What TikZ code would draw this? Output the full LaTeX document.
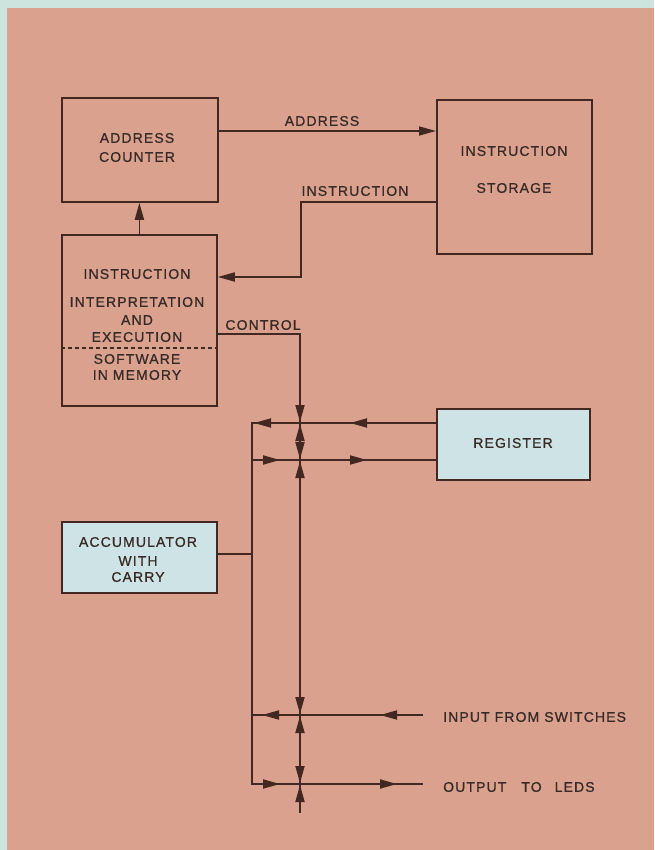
\documentclass[tikz,border=0pt]{standalone}
\usepackage{fontspec}
\setmainfont{Liberation Sans}[LetterSpace=8, FakeBold=0.8]
\usetikzlibrary{arrows.meta,calc}
\definecolor{salmon}{RGB}{217,161,142}
\definecolor{framecol}{RGB}{204,227,222}
\definecolor{boxblue}{RGB}{206,227,229}
\definecolor{ink}{RGB}{66,40,32}
\definecolor{txt}{RGB}{56,42,38}
\begin{document}
\begin{tikzpicture}[x=1pt,y=-1pt,
  box/.style={draw=ink, line width=1.8pt, rectangle, inner sep=0pt, anchor=north west},
  lbl/.style={text=txt, font=\fontsize{14}{18}\selectfont, inner sep=0pt},
  wire/.style={draw=ink, line width=1.8pt},
  tip/.style={wire, -{Triangle[length=17pt,width=9pt]}},
]
\fill[framecol] (0,0) rectangle (654,850);
\fill[salmon] (7,8) rectangle (654,850);
\useasboundingbox (0,0) rectangle (654,850);

% boxes
\node[box, minimum width=156pt, minimum height=104pt] (ac) at (61,97) {};
\node[box, minimum width=155pt, minimum height=154pt] (is) at (436,99) {};
\node[box, minimum width=155pt, minimum height=171pt] (iie) at (61,234) {};
\node[box, fill=boxblue, minimum width=153pt, minimum height=71pt] (reg) at (436,408) {};
\node[box, fill=boxblue, minimum width=155pt, minimum height=71pt] (acc) at (61,521) {};

% box texts
\node[lbl] (t1) at (137,138) {ADDRESS};
\node[lbl] (t2) at (137,157) {COUNTER};
\node[lbl] (t3) at (514,151) {INSTRUCTION};
\node[lbl] (t4) at (514,188) {STORAGE};
\node[lbl] (t5) at (137,274) {INSTRUCTION};
\node[lbl] (t6) at (137,302) {INTERPRETATION};
\node[lbl] (t7) at (137,320) {AND};
\node[lbl] (t8) at (137,337) {EXECUTION};
\node[lbl] (t9) at (137,359) {SOFTWARE};
\node[lbl] (t10) at (137,375) {IN MEMORY};
\node[lbl] (t11) at (513,443) {REGISTER};
\node[lbl] (t12) at (138,542) {ACCUMULATOR};
\node[lbl] (t13) at (138,561) {WITH};
\node[lbl] (t14) at (138,577) {CARRY};

% connector labels
\node[lbl] (la) at (322,121) {ADDRESS};
\node[lbl] (li) at (355,191) {INSTRUCTION};
\node[lbl] (lc) at (263,325) {CONTROL};
\node[lbl, anchor=west] (lin) at (443,717) {INPUT FROM SWITCHES};
\node[lbl, anchor=west] (lout) at (443,787) {OUTPUT\hspace{10pt} TO\hspace{8pt} LEDS};

% dashed separator
\coordinate (dsh) at (0,348);
\draw[draw=ink, line width=1.3pt, dash pattern=on 4pt off 3pt] (iie.west |- dsh) -- (iie.east |- dsh);

% address
\coordinate (addrY) at (0,131);
\draw[tip] (ac.east |- addrY) -- (is.west |- addrY);
% instruction
\coordinate (instA) at (301,202);
\coordinate (instB) at (301,277);
\draw[tip] (is.west |- instA) -- (instA) -- (instB) -- (iie.east |- instB);
% up arrow to address counter
\draw[tip] (iie.north) -- (iie.north |- ac.south);
% control
\coordinate (ctl) at (300,334);
\coordinate (cbot) at (300,813);
\draw[wire] (iie.east |- ctl) -- (ctl) -- (cbot);

% left bus
\coordinate (bU) at (252,423);
\coordinate (bL) at (252,460);
\coordinate (bA) at (252,554);
\coordinate (bI) at (252,715);
\coordinate (bO) at (252,784);
\coordinate (inE) at (423,715);
\coordinate (outE) at (423,784);
\draw[wire] (reg.west |- bU) -- (bU) -- (bO) -- (outE);
\draw[wire] (bL) -- (reg.west |- bL);
\draw[wire] (acc.east |- bA) -- (bA);
\draw[wire] (inE) -- (bI);

% mid-line arrowheads on horizontal lines
\foreach \x/\y/\d in {254/423/1, 350/423/1, 280/460/-1, 367/460/-1,
                      262/715/1, 380/715/1, 280/784/-1, 397/784/-1}{
  \draw[tip] (\x+17*\d,\y) -- (\x,\y);
}
% arrowheads on the control bus, pointing at each crossing
\foreach \y in {423,460,715,784}{
  \draw[tip] (300,\y-18) -- (300,\y-1);
  \draw[tip] (300,\y+18) -- (300,\y+1);
}
\end{tikzpicture}
\end{document}
